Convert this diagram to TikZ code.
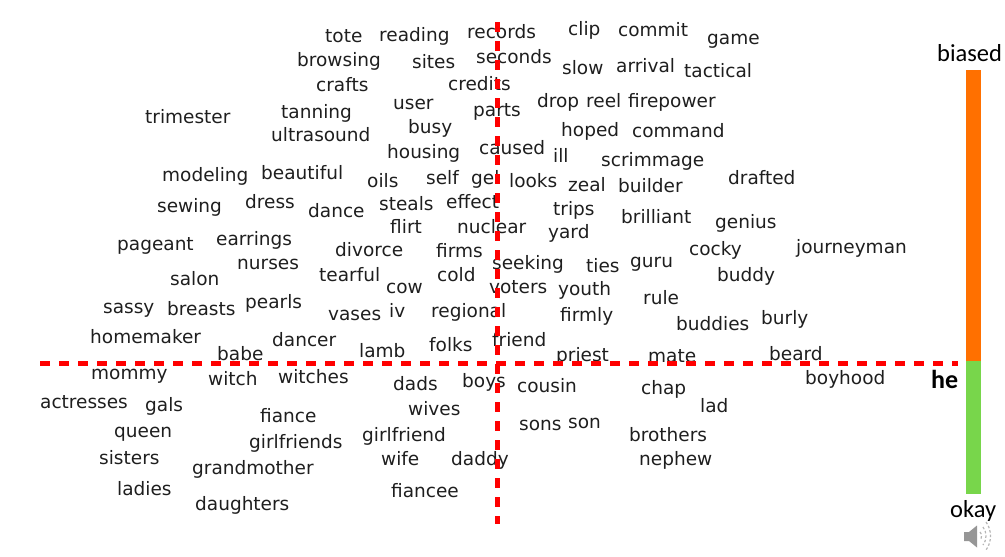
\documentclass[tikz,border=0pt]{standalone}
\usepackage{fontspec}
\newfontfamily\wordfont{DejaVu Sans}
\newfontfamily\labfont{Carlito}
\definecolor{barorange}{RGB}{255,112,0}
\definecolor{bargreen}{RGB}{120,214,75}
\definecolor{wordcol}{RGB}{30,30,30}
\definecolor{spk}{RGB}{150,150,150}
\tikzset{
  wd/.style={anchor=base west, inner sep=0pt, text=wordcol, font=\wordfont\fontsize{18.5}{20}\selectfont},
  lab/.style={anchor=base west, inner sep=0pt, text=black, font=\labfont\fontsize{24.5}{26}\selectfont},
  axisline/.style={red, line width=5pt, dash pattern=on 10pt off 9pt},
  wave/.style={spk!70, line width=1.2pt, dash pattern=on 2.5pt off 2pt},
}
\begin{document}
\begin{tikzpicture}[x=1pt,y=-1pt]
\useasboundingbox (0,0) rectangle (1005,557);
% words
\node[wd] (tote) at (325,42) {tote};
\node[wd] (reading) at (379,41) {reading};
\node[wd] (records) at (467,38) {records};
\node[wd] (browsing) at (297,66) {browsing};
\node[wd] (sites) at (412,68) {sites};
\node[wd] (seconds) at (476,63) {seconds};
\node[wd] (crafts) at (316,91) {crafts};
\node[wd] (credits) at (448,90) {credits};
\node[wd] (trimester) at (145,123) {trimester};
\node[wd] (tanning) at (281,118) {tanning};
\node[wd] (user) at (393,109) {user};
\node[wd] (parts) at (473,116) {parts};
\node[wd] (ultrasound) at (271,141) {ultrasound};
\node[wd] (busy) at (408,133) {busy};
\node[wd] (housing) at (387,158) {housing};
\node[wd] (caused) at (479,154) {caused};
\node[wd] (modeling) at (162,181) {modeling};
\node[wd] (beautiful) at (261,179) {beautiful};
\node[wd] (oils) at (367,187) {oils};
\node[wd] (self) at (426,184) {self};
\node[wd] (gel) at (471,184) {gel};
\node[wd] (clip) at (568,35) {clip};
\node[wd] (commit) at (618,36) {commit};
\node[wd] (game) at (707,44) {game};
\node[wd] (slow) at (562,74) {slow};
\node[wd] (arrival) at (616,72) {arrival};
\node[wd] (tactical) at (684,77) {tactical};
\node[wd] (drop) at (537,107) {drop};
\node[wd] (reel) at (586,107) {reel};
\node[wd] (firepower) at (628,107) {firepower};
\node[wd] (hoped) at (561,136) {hoped};
\node[wd] (command) at (632,137) {command};
\node[wd] (ill) at (553,162) {ill};
\node[wd] (scrimmage) at (601,166) {scrimmage};
\node[wd] (looks) at (509,187) {looks};
\node[wd] (zeal) at (568,191) {zeal};
\node[wd] (builder) at (618,192) {builder};
\node[wd] (drafted) at (728,184) {drafted};
\node[wd] (sewing) at (157,212) {sewing};
\node[wd] (dress) at (245,208) {dress};
\node[wd] (dance) at (308,217) {dance};
\node[wd] (steals) at (379,210) {steals};
\node[wd] (effect) at (446,208) {effect};
\node[wd] (flirt) at (390,233) {flirt};
\node[wd] (nuclear) at (457,233) {nuclear};
\node[wd] (pageant) at (117,250) {pageant};
\node[wd] (earrings) at (216,245) {earrings};
\node[wd] (divorce) at (335,256) {divorce};
\node[wd] (firms) at (436,257) {firms};
\node[wd] (nurses) at (237,269) {nurses};
\node[wd] (tearful) at (319,281) {tearful};
\node[wd] (cold) at (437,281) {cold};
\node[wd] (salon) at (170,285) {salon};
\node[wd] (cow) at (386,293) {cow};
\node[wd] (seeking) at (492,269) {seeking};
\node[wd] (voters) at (489,293) {voters};
\node[wd] (sassy) at (103,313) {sassy};
\node[wd] (breasts) at (167,315) {breasts};
\node[wd] (pearls) at (245,308) {pearls};
\node[wd] (vases) at (328,320) {vases};
\node[wd] (iv) at (389,317) {iv};
\node[wd] (regional) at (431,317) {regional};
\node[wd] (homemaker) at (90,343) {homemaker};
\node[wd] (dancer) at (272,346) {dancer};
\node[wd] (babe) at (217,360) {babe};
\node[wd] (lamb) at (359,357) {lamb};
\node[wd] (folks) at (429,351) {folks};
\node[wd] (friend) at (492,346) {friend};
\node[wd] (trips) at (553,215) {trips};
\node[wd] (brilliant) at (621,223) {brilliant};
\node[wd] (genius) at (715,228) {genius};
\node[wd] (yard) at (548,238) {yard};
\node[wd] (cocky) at (689,255) {cocky};
\node[wd] (journeyman) at (796,253) {journeyman};
\node[wd] (ties) at (586,272) {ties};
\node[wd] (guru) at (630,267) {guru};
\node[wd] (buddy) at (717,281) {buddy};
\node[wd] (youth) at (558,295) {youth};
\node[wd] (rule) at (643,304) {rule};
\node[wd] (firmly) at (560,321) {firmly};
\node[wd] (buddies) at (676,330) {buddies};
\node[wd] (burly) at (761,324) {burly};
\node[wd] (priest) at (556,361) {priest};
\node[wd] (mate) at (648,362) {mate};
\node[wd] (beard) at (769,360) {beard};
\node[wd] (mommy) at (91,379) {mommy};
\node[wd] (witch) at (208,385) {witch};
\node[wd] (witches) at (278,383) {witches};
\node[wd] (dads) at (393,390) {dads};
\node[wd] (boys) at (462,387) {boys};
\node[wd] (actresses) at (40,408) {actresses};
\node[wd] (gals) at (145,411) {gals};
\node[wd] (fiance) at (260,422) {fiance};
\node[wd] (wives) at (408,415) {wives};
\node[wd] (queen) at (114,437) {queen};
\node[wd] (girlfriends) at (249,448) {girlfriends};
\node[wd] (girlfriend) at (362,441) {girlfriend};
\node[wd] (sisters) at (99,464) {sisters};
\node[wd] (wife) at (381,465) {wife};
\node[wd] (daddy) at (451,465) {daddy};
\node[wd] (grandmother) at (192,474) {grandmother};
\node[wd] (ladies) at (117,495) {ladies};
\node[wd] (fiancee) at (391,497) {fiancee};
\node[wd] (daughters) at (195,510) {daughters};
\node[wd] (cousin) at (517,392) {cousin};
\node[wd] (chap) at (641,394) {chap};
\node[wd] (lad) at (700,412) {lad};
\node[wd] (boyhood) at (805,384) {boyhood};
\node[wd] (sons) at (519,430) {sons};
\node[wd] (son) at (568,428) {son};
\node[wd] (brothers) at (629,441) {brothers};
\node[wd] (nephew) at (639,465) {nephew};
% axes
\coordinate (vtop) at (497.5,22);
\coordinate (vbot) at (497.5,524);
\coordinate (hleft) at (40,363.5);
\coordinate (hright) at (958,363.5);
\draw[axisline] (vtop) -- (vbot);
\draw[axisline] (hleft) -- (hright);
% colour bar
\fill[barorange] (965.5,70) rectangle (980.5,361);
\fill[bargreen] (965.5,361) rectangle (980.5,494);
\node[lab] (biased) at (937,61) {biased};
\node[lab, font=\labfont\bfseries\fontsize{26}{28}\selectfont] (he) at (931,388) {he};
\node[lab] (okay) at (950,517) {okay};
% speaker icon
\fill[spk] (964,532) -- (969,532) -- (977,525.5) -- (977,547.5) -- (969,541) -- (964,541) -- cycle;
\draw[wave] (980,532) .. controls (982,534) and (982,538) .. (980,540);
\draw[wave] (983,527) .. controls (987,532) and (987,540) .. (983,545);
\draw[wave] (986,522) .. controls (992,530) and (992,542) .. (986,550);
\end{tikzpicture}
\end{document}
